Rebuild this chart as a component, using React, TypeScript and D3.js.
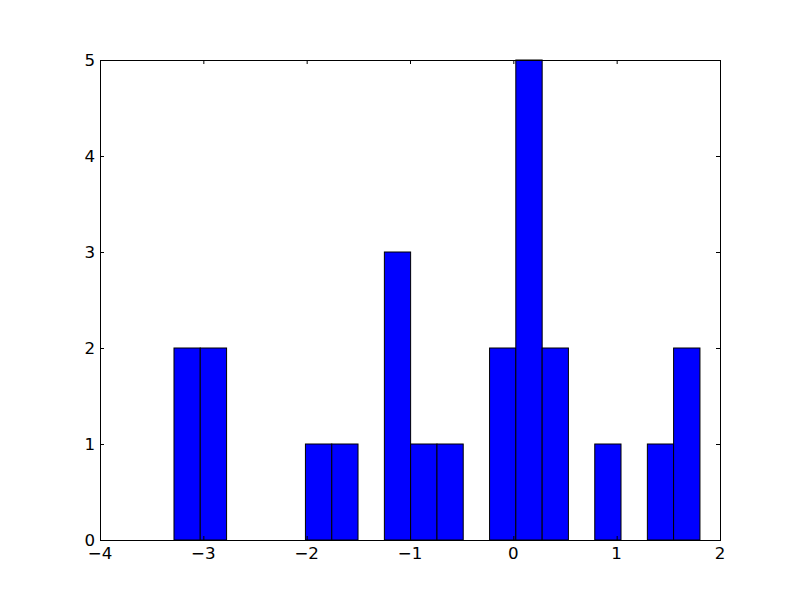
import React from "react";
import * as d3 from "d3";

const binEdges = [-3.284, -3.03, -2.775, -2.521, -2.266, -2.012, -1.757, -1.503, -1.248, -0.994, -0.739, -0.485, -0.23, 0.024, 0.279, 0.533, 0.788, 1.042, 1.297, 1.551, 1.806];
const counts = [2, 2, 0, 0, 0, 1, 1, 0, 3, 1, 1, 0, 2, 5, 2, 0, 1, 0, 1, 2];
const xTicks = [-4, -3, -2, -1, 0, 1, 2];
const yTicks = [0, 1, 2, 3, 4, 5];

const W = 800, H = 600;
const left = 100, right = 720, top = 60, bottom = 540;

export default function App() {
  const x = d3.scaleLinear().domain([-4, 2]).range([left, right]);
  const y = d3.scaleLinear().domain([0, 5]).range([bottom, top]);
  const fmt = (v: number) => (v < 0 ? "\u2212" + Math.abs(v) : String(v));
  const font = "DejaVu Sans, sans-serif";
  const fs = 16.67;
  return (
    <svg width={W} height={H} style={{ position: "absolute", left: 0, top: 0, background: "#fff" }}>
      <rect x={0} y={0} width={W} height={H} fill="#fff" />
      {counts.map((c, i) =>
        c > 0 ? (
          <rect
            key={i}
            x={x(binEdges[i])}
            y={y(c)}
            width={x(binEdges[i + 1]) - x(binEdges[i])}
            height={y(0) - y(c)}
            fill="#0000ff"
            stroke="#000"
            strokeWidth={1}
          />
        ) : null
      )}
      <rect x={left + 0.5} y={top + 0.5} width={right - left} height={bottom - top} fill="none" stroke="#000" strokeWidth={1} />
      {xTicks.map((t) => (
        <g key={"x" + t}>
          <line x1={x(t) + 0.5} x2={x(t) + 0.5} y1={bottom} y2={bottom - 4} stroke="#000" />
          <line x1={x(t) + 0.5} x2={x(t) + 0.5} y1={top} y2={top + 4} stroke="#000" />
          <text x={x(t)} y={bottom + 19} textAnchor="middle" fontFamily={font} fontSize={fs}>
            {fmt(t)}
          </text>
        </g>
      ))}
      {yTicks.map((t) => (
        <g key={"y" + t}>
          <line x1={left} x2={left + 4} y1={y(t) + 0.5} y2={y(t) + 0.5} stroke="#000" />
          <line x1={right} x2={right - 4} y1={y(t) + 0.5} y2={y(t) + 0.5} stroke="#000" />
          <text x={left - 5} y={y(t) + 5.5} textAnchor="end" fontFamily={font} fontSize={fs}>
            {fmt(t)}
          </text>
        </g>
      ))}
    </svg>
  );
}
